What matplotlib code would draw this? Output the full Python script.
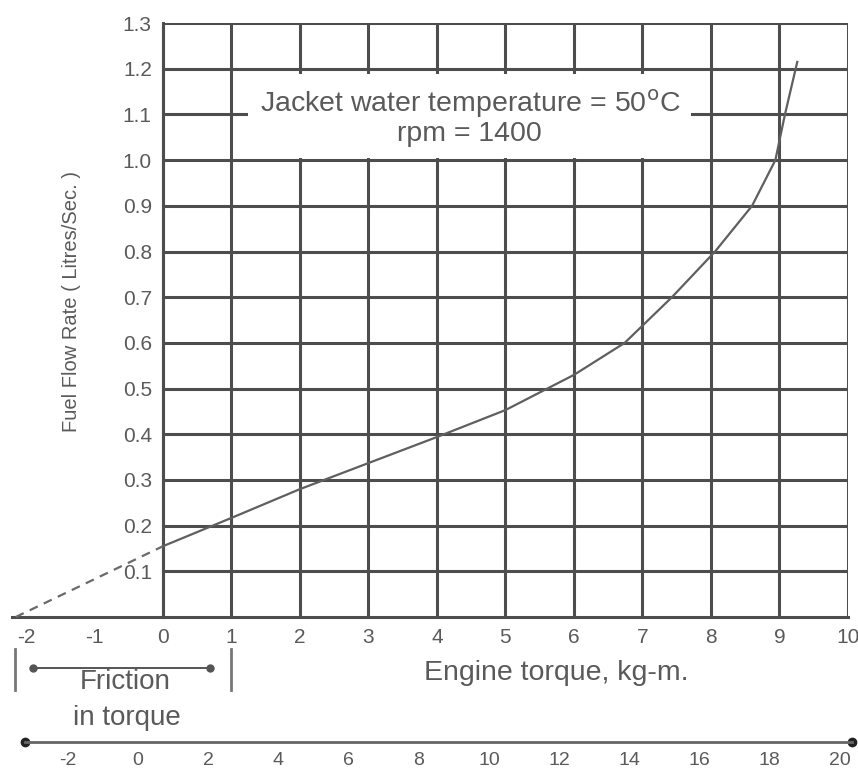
import matplotlib
matplotlib.use("Agg")
import matplotlib.pyplot as plt

plt.rcParams['font.family'] = ['Liberation Sans', 'DejaVu Sans']
plt.rcParams['axes.unicode_minus'] = False

# curve (torque in kg-m, fuel flow in litres/sec)
torque = [0, 1, 2, 3, 4, 5, 6, 6.74, 7.43, 8.06, 8.6, 8.94, 9.08, 9.26]
fuel = [0.155, 0.217, 0.28, 0.337, 0.394, 0.453, 0.53, 0.60, 0.70, 0.80,
        0.90, 1.00, 1.10, 1.215]
# extrapolated (dashed) part down to zero fuel
dash_torque = [-2.15, 0]
dash_fuel = [0.0, 0.155]

x_ticks = list(range(-2, 11))
y_ticks = [0.1, 0.2, 0.3, 0.4, 0.5, 0.6, 0.7, 0.8, 0.9, 1.0, 1.1, 1.2, 1.3]
y_labels = ['0.1', '0.2', '0.3', '0.4', '0.5', '0.6', '0.7', '0.8', '0.9',
            '1.0', '1.1', '1.2', '1.3']
grid_x = list(range(0, 11))
bottom_ticks = [-2, 0, 2, 4, 6, 8, 10, 12, 14, 16, 18, 20]
friction_range = [-2.16, 1.0]

grid_c = '#4d4d4d'
text_c = '#5a5a5a'

fig = plt.figure(figsize=(8.58, 7.74), dpi=100)
ax = fig.add_axes([0.0143, 0.2028, 0.974, 0.7674])
ax.set_xlim(-2.2, 10)
ax.set_ylim(0, 1.3)

# grid drawn only over the positive region
ax.vlines(grid_x, 0, 1.3, colors=grid_c, lw=2.2, zorder=1)
ax.hlines(y_ticks, 0, 10, colors=grid_c, lw=2.2, zorder=1)

for s in ['top', 'right']:
    ax.spines[s].set_visible(False)
ax.spines['left'].set_position(('data', 0))
ax.spines['left'].set_color(grid_c)
ax.spines['left'].set_linewidth(2.2)
ax.spines['bottom'].set_color(grid_c)
ax.spines['bottom'].set_linewidth(2.2)

ax.set_xticks(x_ticks)
ax.set_xticklabels([str(t) for t in x_ticks])
ax.set_yticks(y_ticks)
ax.set_yticklabels(y_labels)
ax.tick_params(axis='both', length=0, labelsize=15, labelcolor=text_c)
ax.tick_params(axis='y', pad=8)
ax.tick_params(axis='x', pad=8)

ax.plot(torque, fuel, color='#5f5f5f', lw=1.6, zorder=4)
ax.plot(dash_torque, dash_fuel, color='#6a6a6a', lw=1.6, ls=(0, (4, 3)),
        zorder=4, clip_on=False)

ax.text(4.48, 1.094, 'Jacket water temperature = 50$^{\\rm o}$C\nrpm = 1400',
        ha='center', va='center', fontsize=20.5, color=text_c, linespacing=1.05,
        zorder=3, bbox=dict(boxstyle='square,pad=0.4', fc='white', ec='none'))

ax.text(-1.33, 0.69, 'Fuel Flow Rate ( Litres/Sec. )', rotation=90,
        ha='center', va='center', fontsize=14.5, color=text_c)
ax.text(5.74, -0.123, 'Engine torque, kg-m.', ha='center', va='center',
        fontsize=20.5, color=text_c, clip_on=False)

# friction in torque marker
for fx in friction_range:
    ax.plot([fx, fx], [-0.07, -0.16], color='#777777', lw=2, clip_on=False)
ax.plot([-1.9, 0.69], [-0.112, -0.112], color='#555555', lw=1.4,
        marker='o', ms=5, clip_on=False)
ax.text(-0.55, -0.142, 'Friction', ha='center', va='center', fontsize=20,
        color=text_c, clip_on=False)
ax.text(-0.53, -0.222, 'in torque', ha='center', va='center', fontsize=20,
        color=text_c, clip_on=False)

# second scale below
ax2 = fig.add_axes([0.0291, 0.0413, 0.9639, 0.001])
ax2.set_xlim(-3.22, 20.34)
for s in ['top', 'right', 'left']:
    ax2.spines[s].set_visible(False)
ax2.spines['bottom'].set_color('#666666')
ax2.spines['bottom'].set_linewidth(2)
ax2.set_yticks([])
ax2.set_xticks(bottom_ticks)
ax2.set_xticklabels([str(t) for t in bottom_ticks])
ax2.tick_params(axis='x', length=0, pad=7, labelsize=14, labelcolor=text_c)
ax2.plot([-3.22, 20.34], [0, 0], ls='none', marker='o', ms=6,
         color='#222222', clip_on=False)
ax2.set_ylim(0, 1)

fig.savefig('out.png', dpi=100)
